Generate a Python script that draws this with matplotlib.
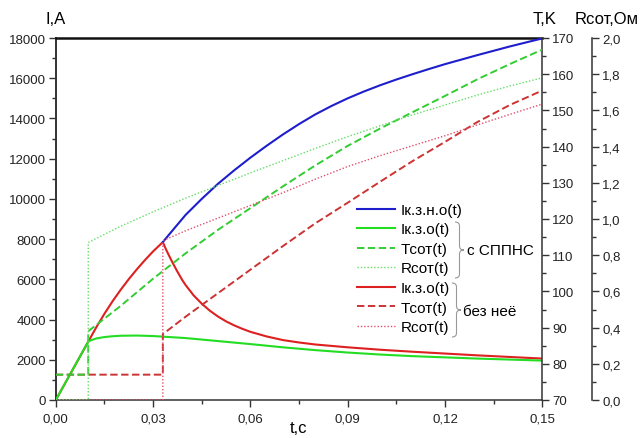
import matplotlib
matplotlib.use("Agg")
import matplotlib.pyplot as plt
from matplotlib.ticker import MultipleLocator, FuncFormatter
from matplotlib.path import Path
from matplotlib.patches import PathPatch

plt.rcParams['font.family'] = ['Liberation Sans', 'DejaVu Sans']

# fault current without limiting (blue)
t_blue = [0.033, 0.035, 0.04, 0.045, 0.05, 0.055, 0.06, 0.065, 0.07, 0.075, 0.08, 0.085,
          0.09, 0.095, 0.10, 0.105, 0.11, 0.115, 0.12, 0.13, 0.14, 0.15]
i_blue = [7850, 8240, 9200, 10000, 10750, 11420, 12050, 12640, 13200, 13720, 14200, 14620,
          15000, 15340, 15650, 15935, 16200, 16455, 16700, 17150, 17580, 17980]

# limited current with SPPNS (green)
t_green = [0, 0.005, 0.01, 0.011, 0.0125, 0.015, 0.0175, 0.02, 0.025, 0.03, 0.04, 0.05,
           0.06, 0.07, 0.08, 0.09, 0.10, 0.11, 0.12, 0.13, 0.14, 0.15]
i_green = [0, 1450, 2900, 2980, 3060, 3130, 3170, 3195, 3205, 3180, 3080, 2930,
           2780, 2620, 2480, 2360, 2260, 2180, 2120, 2060, 2010, 1960]

# limited current without it (red)
t_red = [0, 0.005, 0.01, 0.0125, 0.015, 0.0175, 0.02, 0.0225, 0.025, 0.0275, 0.03, 0.033,
         0.034, 0.035, 0.036, 0.0375, 0.039, 0.04, 0.0425, 0.045, 0.0475, 0.05, 0.0525,
         0.055, 0.0575, 0.06, 0.065, 0.07, 0.075, 0.08, 0.09, 0.10, 0.11, 0.12, 0.13,
         0.14, 0.15]
i_red = [0, 1450, 2900, 3620, 4290, 4910, 5480, 6010, 6500, 6960, 7390, 7850,
         7480, 7150, 6830, 6380, 5960, 5720, 5200, 4790, 4440, 4150, 3910,
         3710, 3540, 3390, 3160, 2980, 2860, 2760, 2620, 2500, 2400, 2310, 2220,
         2140, 2060]

# temperature, K
t_temp_green = [0, 0.01, 0.01, 0.02, 0.03, 0.04, 0.05, 0.06, 0.07, 0.08, 0.09,
                0.10, 0.11, 0.12, 0.13, 0.14, 0.15]
temp_green = [77, 77, 89, 96, 103.5, 110.5, 117, 123, 129, 134.8, 140.2,
              145, 149.5, 154, 158.6, 162.8, 166.8]
t_temp_red = [0, 0.033, 0.033, 0.04, 0.05, 0.06, 0.07, 0.08, 0.09, 0.10, 0.11,
              0.12, 0.13, 0.14, 0.15]
temp_red = [77, 77, 88.2, 93, 99.5, 106, 112.5, 118.8, 124.5, 130.3, 136,
            141.3, 146.8, 151.5, 155.5]

# resistance, Ohm
t_res_green = [0, 0.01, 0.01, 0.015, 0.02, 0.03, 0.04, 0.05, 0.06, 0.07, 0.08,
               0.09, 0.10, 0.11, 0.12, 0.13, 0.14, 0.15]
res_green = [0, 0, 0.87, 0.915, 0.96, 1.04, 1.115, 1.185, 1.255, 1.322, 1.39,
             1.455, 1.515, 1.575, 1.63, 1.685, 1.735, 1.78]
t_res_red = [0, 0.033, 0.033, 0.04, 0.05, 0.06, 0.07, 0.08, 0.09, 0.10, 0.11,
             0.12, 0.13, 0.14, 0.15]
res_red = [0, 0, 0.88, 0.935, 1.005, 1.075, 1.145, 1.22, 1.29, 1.35, 1.405,
           1.46, 1.52, 1.578, 1.635]

labels = ['Iк.з.н.о(t)', 'Iк.з.о(t)', 'Tсот(t)', 'Rсот(t)',
          'Iк.з.о(t)', 'Tсот(t)', 'Rсот(t)']

W, H = 642, 439
fig = plt.figure(figsize=(W / 100, H / 100), dpi=100)
ax = fig.add_axes([55.8 / W, 1 - 401 / H, (542.3 - 55.8) / W, (401 - 39) / H])
axT = ax.twinx()
axR = ax.twinx()
axR.spines['right'].set_position(('outward', 36))

dash = (0, (3.8, 1.8))
dot = (0, (1, 1.4))

l_red, = ax.plot(t_red, i_red, color='#dd2020', lw=1.5, zorder=2)
l_blue, = ax.plot(t_blue, i_blue, color='#1e1ecc', lw=1.5, zorder=3)
l_green, = ax.plot(t_green, i_green, color='#22dd22', lw=1.5, zorder=4)

l_tr, = axT.plot(t_temp_red, temp_red, color='#cc3333', lw=1.4, linestyle=dash, zorder=2)
l_tg, = axT.plot(t_temp_green, temp_green, color='#33cc33', lw=1.4, linestyle=dash, zorder=3)

l_rr, = axR.plot(t_res_red, res_red, color='#e0506e', lw=1.0, linestyle=dot, zorder=2)
l_rg, = axR.plot(t_res_green, res_green, color='#66dd66', lw=1.0, linestyle=dot, zorder=3)

ax.set_xlim(0, 0.15)
ax.set_ylim(0, 18000)
axT.set_ylim(70, 170)
axR.set_ylim(0, 2.0)

comma = lambda fmt: FuncFormatter(lambda v, p: fmt.format(v).replace('.', ','))
ax.xaxis.set_major_locator(MultipleLocator(0.03))
ax.xaxis.set_minor_locator(MultipleLocator(0.015))
ax.xaxis.set_major_formatter(comma('{:.2f}'))
ax.yaxis.set_major_locator(MultipleLocator(2000))
ax.yaxis.set_minor_locator(MultipleLocator(1000))
axT.yaxis.set_major_locator(MultipleLocator(10))
axT.yaxis.set_minor_locator(MultipleLocator(5))
axR.yaxis.set_major_locator(MultipleLocator(0.2))
axR.yaxis.set_minor_locator(MultipleLocator(0.1))
axR.yaxis.set_major_formatter(comma('{:.1f}'))

spine_c = '#333333'
for a in (ax, axT, axR):
    a.tick_params(which='major', direction='out', length=5, width=1, color=spine_c,
                  labelsize=9.5, labelcolor='#222222', pad=2)
    a.tick_params(which='minor', direction='out', length=3, width=1, color=spine_c)
    for s in a.spines.values():
        s.set_color(spine_c)
        s.set_linewidth(1.1)
ax.spines['right'].set_visible(False)
ax.spines['top'].set_linewidth(1.8)
ax.spines['top'].set_color('#111111')
ax.spines['left'].set_linewidth(1.4)
for a in (axT, axR):
    for k in ('left', 'top', 'bottom'):
        a.spines[k].set_visible(False)
ax.tick_params(axis='x', pad=4)

fig.text(56 / W, 1 - 19 / H, 'I,A', ha='center', va='center', fontsize=12)
fig.text(545 / W, 1 - 19 / H, 'T,K', ha='center', va='center', fontsize=12)
fig.text(607 / W, 1 - 19 / H, 'Rсот,Ом', ha='center', va='center', fontsize=12)
fig.text(298 / W, 1 - 429 / H, 't,c', ha='center', va='center', fontsize=12)

axR.legend([l_blue, l_green, l_tg, l_rg, l_red, l_tr, l_rr], labels,
           loc='upper left', bbox_to_anchor=(357 / W, 1 - 204 / H),
           bbox_transform=fig.transFigure, frameon=False, fontsize=11,
           handlelength=2.5, handletextpad=0.35, labelspacing=0.36,
           borderpad=0, borderaxespad=0)


def brace(x0, yt, yb, w):
    ym = (yt + yb) / 2
    xm = x0 + w / 2
    pts = [(x0, yt), (xm, yt), (xm, yt + 4), (xm, ym - 4), (xm, ym), (x0 + w, ym),
           (xm, ym), (xm, ym + 4), (xm, yb - 4), (xm, yb), (x0, yb)]
    codes = [Path.MOVETO, Path.CURVE3, Path.CURVE3, Path.LINETO, Path.CURVE3, Path.CURVE3,
             Path.CURVE3, Path.CURVE3, Path.LINETO, Path.CURVE3, Path.CURVE3]
    verts = [(x / W, 1 - y / H) for x, y in pts]
    fig.add_artist(PathPatch(Path(verts, codes), transform=fig.transFigure,
                             facecolor='none', edgecolor='#999999', lw=0.8))


brace(455, 223, 279, 9)
fig.text(467 / W, 1 - 251 / H, 'с СППНС', ha='left', va='center', fontsize=11)
brace(452, 284, 338, 9)
fig.text(463 / W, 1 - 312 / H, 'без неё', ha='left', va='center', fontsize=11)

fig.savefig('out.png', dpi=100)
